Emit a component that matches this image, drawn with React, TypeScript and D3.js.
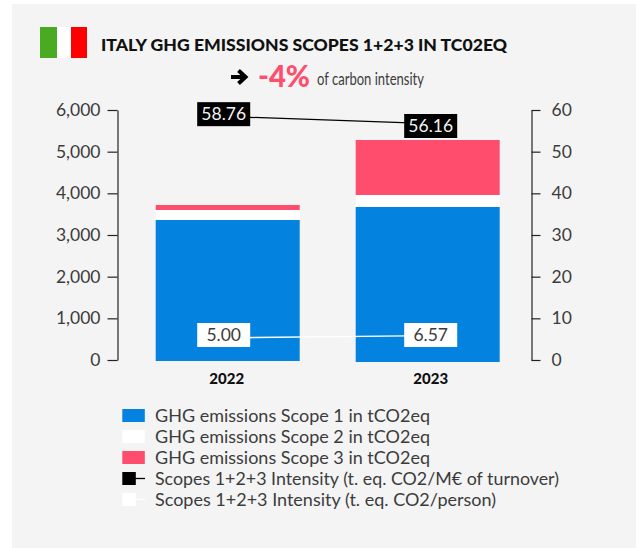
import React, { useEffect, useRef } from "react";
import * as d3 from "d3";

const years = ["2022", "2023"];
const scope1 = [3360, 3672];
const scope2 = [240, 288];
const scope3 = [120, 1320];
const intensityTurnover = [58.76, 56.16];
const intensityPerson = [5.0, 6.57];
// where the connecting lines and the labels sit on the right axis
const turnoverLine = [58.46, 56.74];
const personLine = [5.3, 5.85];
const turnoverLabelAt = [59.0, 56.16];
const personLabelAt = [6.0, 6.0];
const leftTicks = [0, 1000, 2000, 3000, 4000, 5000, 6000];
const rightTicks = [0, 10, 20, 30, 40, 50, 60];
const legendLabels = [
  "GHG emissions Scope 1 in tCO2eq",
  "GHG emissions Scope 2 in tCO2eq",
  "GHG emissions Scope 3 in tCO2eq",
  "Scopes 1+2+3 Intensity (t. eq. CO2/M€ of turnover)",
  "Scopes 1+2+3 Intensity (t. eq. CO2/person)",
];
const legendWidths = [275, 275, 275, 404, 341];
const colors = { s1: "#0482e0", s2: "#ffffff", s3: "#ff4d6d", black: "#000000" };
const FONT = "Lato, sans-serif";
const TEXT = "#3c3c3c";

const x = d3.scaleBand<string>().domain(years).range([127.7, 527.7]).paddingInner(0.28).paddingOuter(0.14);
const yL = d3.scaleLinear().domain([0, 6000]).range([360, 110]);
const yR = d3.scaleLinear().domain([0, 60]).range([360, 110]);
const stack = d3.stack<number>().keys(["0", "1", "2"]).value((i, k) => [scope1, scope2, scope3][+k][i]);
const series = stack(years.map((_, i) => i));
const seriesColors = [colors.s1, colors.s2, colors.s3];
const center = (y: string) => (x(y) as number) + x.bandwidth() / 2;
const labelShift = [-4, 3];
const yearShift = [-1, 3];
const boxW = 53;
const boxH = 24;

function Connector({ vals, stroke, w }: { vals: number[]; stroke: string; w: number }) {
  const line = d3.line<number>().x((_, i) => center(years[i]) + labelShift[i]).y((d) => yR(d));
  return <path d={line(vals) as string} fill="none" stroke={stroke} strokeWidth={w} />;
}

function Box({ i, at, text, fill, color }: { i: number; at: number; text: string; fill: string; color: string }) {
  const cx = center(years[i]) + labelShift[i];
  const cy = yR(at);
  return (
    <g>
      <rect x={cx - boxW / 2} y={cy - boxH / 2} width={boxW} height={boxH} fill={fill} />
      <text x={cx} y={cy + 6} textAnchor="middle" fontSize={17.5} fontFamily={FONT} fill={color}>{text}</text>
    </g>
  );
}

export default function App() {
  const left = useRef<SVGGElement>(null);
  const right = useRef<SVGGElement>(null);
  useEffect(() => {
    const style = (g: d3.Selection<SVGGElement, unknown, null, undefined>) => {
      g.selectAll("path,line").attr("stroke", "#222").attr("stroke-width", 1.2);
      g.selectAll("text").attr("font-family", FONT).attr("font-size", 17.5).attr("fill", TEXT);
    };
    const l = d3.select(left.current as SVGGElement);
    l.call(d3.axisLeft(yL).tickValues(leftTicks).tickFormat(d3.format(",") as any).tickSize(10).tickSizeOuter(0).tickPadding(7) as any);
    style(l);
    const r = d3.select(right.current as SVGGElement);
    r.call(d3.axisRight(yR).tickValues(rightTicks).tickFormat(d3.format("d") as any).tickSize(9).tickSizeOuter(0).tickPadding(11) as any);
    style(r);
  }, []);

  const rowY = [415.5, 436.5, 457.5, 478.5, 499.5];
  return (
    <svg width={636} height={548} style={{ position: "absolute", left: 0, top: 0 }}>
      <rect x={12} y={4} width={624} height={544} fill="#f4f4f4" />
      <rect x={40} y={27} width={17} height={31} fill="#4aab22" />
      <rect x={57} y={27} width={14} height={31} fill="#ffffff" />
      <rect x={71} y={27} width={16} height={31} fill="#ff0000" />
      <text x={101} y={50.5} fontFamily={FONT} fontWeight={900} fontSize={17} fill="#111" textLength={406} lengthAdjust="spacingAndGlyphs">
        ITALY GHG EMISSIONS SCOPES 1+2+3 IN TC02EQ
      </text>
      <path d="M231 77H245M238.5 70.5L245.5 77L238.5 83.5" fill="none" stroke="#000" strokeWidth={4} />
      <text x={258} y={87} fontFamily={FONT} fontWeight={900} fontSize={31} fill={colors.s3} textLength={52} lengthAdjust="spacingAndGlyphs">-4%</text>
      <text x={317} y={85} fontFamily={FONT} fontSize={17} fill={TEXT} textLength={107} lengthAdjust="spacingAndGlyphs">of carbon intensity</text>

      {series.map((s, si) =>
        s.map((d, i) => (
          <rect key={`${si}-${i}`} x={x(years[i])} y={yL(d[1])} width={x.bandwidth()} height={yL(d[0]) - yL(d[1]) + (si === 0 ? 1 + i : 0)} fill={seriesColors[si]} />
        ))
      )}
      <g ref={left} transform="translate(117.5,0)" />
      <g ref={right} transform="translate(531.5,0)" />
      {years.map((y, i) => (
        <text key={y} x={center(y) + yearShift[i]} y={384} textAnchor="middle" fontFamily={FONT} fontWeight={900} fontSize={15} fill="#111">{y}</text>
      ))}

      <Connector vals={turnoverLine} stroke="#000" w={1.3} />
      <Connector vals={personLine} stroke="#fff" w={1.5} />
      {years.map((_, i) => (
        <Box key={`t${i}`} i={i} at={turnoverLabelAt[i]} text={intensityTurnover[i].toFixed(2)} fill="#000" color="#f2f2f2" />
      ))}
      {years.map((_, i) => (
        <Box key={`p${i}`} i={i} at={personLabelAt[i]} text={intensityPerson[i].toFixed(2)} fill="#fff" color={TEXT} />
      ))}

      {legendLabels.map((t, i) => (
        <g key={t}>
          {i < 3 ? (
            <rect x={122.3} y={rowY[i] - 6.5} width={22.5} height={13} fill={seriesColors[i]} />
          ) : (
            <g>
              <line x1={130} x2={145} y1={rowY[i]} y2={rowY[i]} stroke={i === 3 ? "#000" : "#fff"} strokeWidth={1.3} />
              <rect x={122.3} y={rowY[i] - 6.5} width={13.5} height={13} fill={i === 3 ? "#000" : "#fff"} />
            </g>
          )}
          <text x={155} y={rowY[i] + 6} fontFamily={FONT} fontSize={17.5} fill={TEXT} textLength={legendWidths[i]} lengthAdjust="spacingAndGlyphs">{t}</text>
        </g>
      ))}
    </svg>
  );
}
